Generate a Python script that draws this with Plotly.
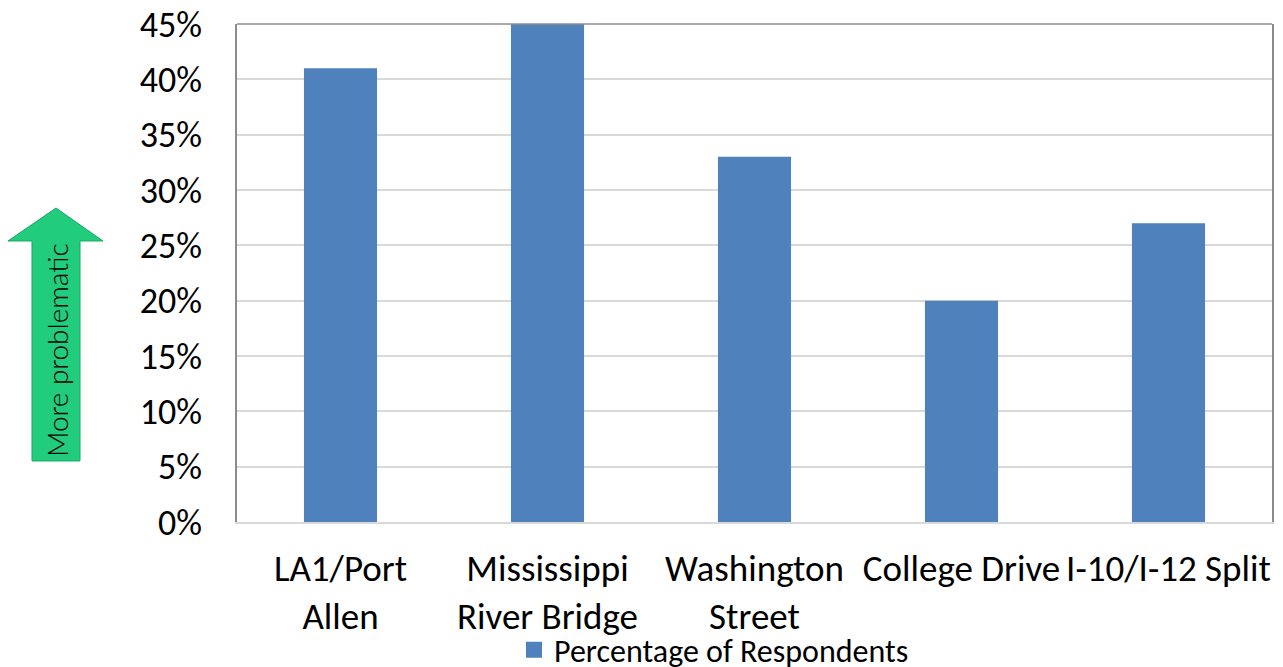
import plotly.graph_objects as go

categories = ["LA1/Port<br>Allen", "Mississippi<br>River Bridge", "Washington<br>Street",
              "College Drive", "I-10/I-12 Split"]
values = [0.41, 0.45, 0.33, 0.20, 0.27]
series_name = "Percentage of Respondents"

W, H = 1283, 667
L, R, T, B = 237, 11, 24, 145
PW, PH = W - L - R, H - T - B

def px(x):
    return (x - L) / PW

def py(y):
    return (H - B - y) / PH

FONT = "Carlito, Lato, sans-serif"

fig = go.Figure()
fig.add_trace(go.Bar(x=categories, y=values, name=series_name,
                     marker=dict(color="#4f81bd", line=dict(width=0)),
                     showlegend=False))
fig.add_trace(go.Scatter(x=[None], y=[None], mode="markers", name=series_name,
                         marker=dict(symbol="square", size=18, color="#4f81bd")))

arrow_pts = [(56, 208), (103, 241), (80, 241), (80, 461), (32, 461), (32, 241), (8, 241)]
path = "M " + " L ".join(f"{px(a):.5f},{py(b):.5f}" for a, b in arrow_pts) + " Z"
fig.add_shape(type="path", path=path, xref="paper", yref="paper",
              fillcolor="#21cc7c", line=dict(color="#1aa865", width=1), layer="above")
fig.add_shape(type="line", xref="paper", yref="paper", x0=0, x1=1, y0=1, y1=1,
              line=dict(color="#8c8c8c", width=1.5))
fig.add_annotation(x=px(57), y=py(350), xref="paper", yref="paper", text="More problematic",
                   textangle=-90, showarrow=False, xanchor="center", yanchor="middle",
                   font=dict(family="Lato Light, " + FONT, size=28, color="#000000", weight=300))

fig.update_layout(
    width=W, height=H,
    margin=dict(l=L, r=R, t=T, b=B, autoexpand=False),
    paper_bgcolor="white", plot_bgcolor="white",
    bargap=0.647,
    font=dict(family=FONT, color="#000000"),
    legend=dict(orientation="h", x=px(714), xanchor="center", y=py(650), yanchor="middle",
                bgcolor="rgba(0,0,0,0)",
                font=dict(size=32, family=FONT), itemsizing="trace"),
)
fig.update_yaxes(range=[0, 0.45], dtick=0.05, tickformat=".0%", showgrid=True,
                 gridcolor="#d9d9d9", gridwidth=1.5, showline=True, linecolor="#8c8c8c",
                 linewidth=1.5, mirror=True, ticks="", ticklabelstandoff=26,
                 tickfont=dict(size=36, family=FONT, color="#000000"), zeroline=False)
fig.update_xaxes(showline=True, linecolor="#d9d9d9", linewidth=1.5, ticks="",
                 ticklabelstandoff=13,
                 tickfont=dict(size=37, family=FONT, color="#000000"))

fig.write_html("out.html")
